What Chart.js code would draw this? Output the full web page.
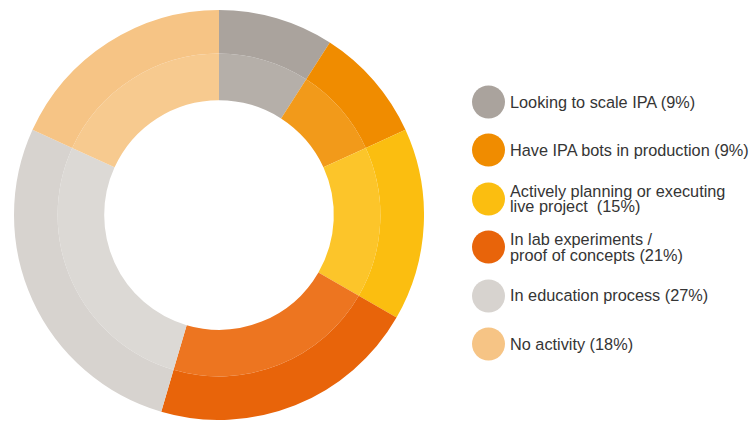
<!DOCTYPE html>
<html>
<head>
<meta charset="utf-8">
<script src="https://cdn.jsdelivr.net/npm/chart.js@4/dist/chart.umd.min.js"></script>
<style>
  html, body { margin: 0; padding: 0; background: #fff; }
  body { width: 753px; height: 428px; position: relative; overflow: hidden; }
  #chart-box { position: absolute; left: 14px; top: 10px; width: 410px; height: 410px; }
  #legend { position: absolute; left: 472px; top: 0; }
  .item { position: absolute; left: 0; display: flex; align-items: center; transform: translateY(-50%); }
  .dot { width: 33px; height: 33px; border-radius: 50%; flex: none; }
  .label {
    margin-left: 5px;
    font-family: "Liberation Sans", Arial, sans-serif;
    font-size: 16.3px;
    line-height: 15.5px;
    color: #353535;
    white-space: pre;
  }
</style>
</head>
<body>
<div id="chart-box"><canvas id="ipa-chart"></canvas></div>
<div id="legend"></div>
<script>
const categories = [
  ['Looking to scale IPA (9%)'],
  ['Have IPA bots in production (9%)'],
  ['Actively planning or executing', 'live project  (15%)'],
  ['In lab experiments /', 'proof of concepts (21%)'],
  ['In education process (27%)'],
  ['No activity (18%)'],
];
const shares = [9, 9, 15, 21, 27, 18];
// outer ring is the full tone, inner ring a slightly lighter tint
const outerColors = ['#aaa39d', '#f08c00', '#fbbe10', '#e8640a', '#d7d3cf', '#f6c485'];
const innerColors = ['#b5afa9', '#f29a1a', '#fcc52a', '#ed7520', '#dcd9d5', '#f7ca8f'];

const legendEl = document.getElementById('legend');
categories.forEach((lines, i) => {
  const item = document.createElement('div');
  item.className = 'item';
  item.style.top = (102 + i * 48.4) + 'px';
  const dot = document.createElement('div');
  dot.className = 'dot';
  dot.style.background = outerColors[i];
  const label = document.createElement('div');
  label.className = 'label';
  label.textContent = lines.join('\n');
  item.appendChild(dot);
  item.appendChild(label);
  legendEl.appendChild(item);
});

new Chart(document.getElementById('ipa-chart'), {
  type: 'doughnut',
  data: {
    labels: categories.map((lines) => lines.join(' ')),
    datasets: [
      { data: shares, backgroundColor: outerColors, borderWidth: 0, weight: 44 },
      { data: shares, backgroundColor: innerColors, borderWidth: 0, weight: 47 },
    ],
  },
  options: {
    responsive: true,
    maintainAspectRatio: false,
    animation: false,
    cutout: '56%',
    layout: { padding: 0 },
    plugins: {
      legend: { display: false },
      tooltip: { enabled: false },
    },
  },
});
</script>
</body>
</html>
